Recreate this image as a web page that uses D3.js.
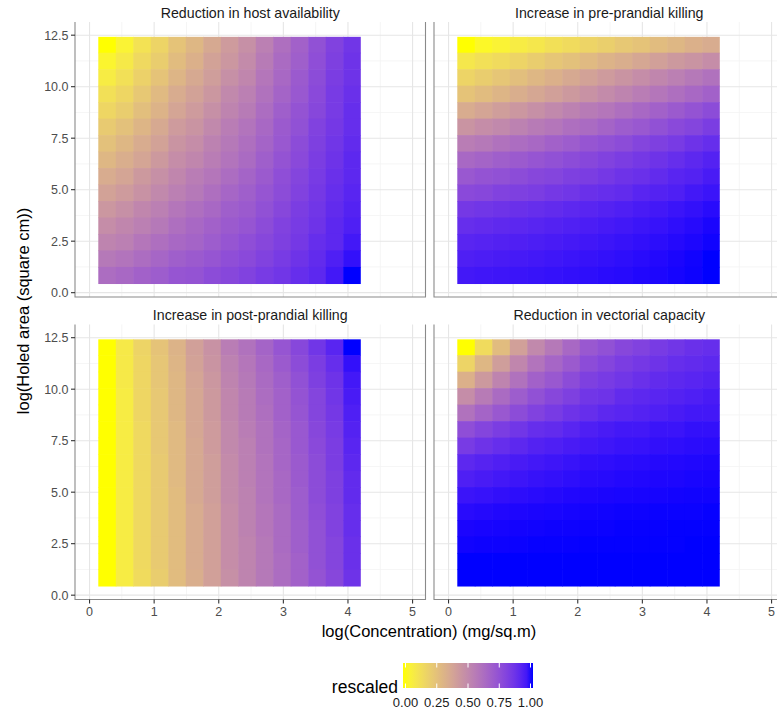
<!DOCTYPE html>
<html><head><meta charset="utf-8">
<script src="https://cdn.jsdelivr.net/npm/d3@7"></script>
<style>body{margin:0;background:#fff} svg{display:block;font-family:"Liberation Sans",Arial,sans-serif}</style>
</head><body><svg id="chart" width="777" height="712"></svg>
<script>
// ---------- data ----------
const panelTitles = ["Reduction in host availability", "Increase in pre-prandial killing",
                     "Increase in post-prandial killing", "Reduction in vectorial capacity"];
// log(Concentration) tile centres
const xCenters = [0.271,0.542,0.813,1.084,1.355,1.625,1.896,2.167,2.438,2.709,2.979,3.250,3.521,3.792,4.063];
// log(Holed area) tile centres, top row first
const yCenters = [12.02,11.22,10.42,9.62,8.82,8.02,7.22,6.42,5.62,4.82,4.02,3.22,2.42,1.62,0.82];
const xTicks = [0,1,2,3,4,5];
const yTicks = [0,2.5,5,7.5,10,12.5];
const yTickLabels = ["0.0","2.5","5.0","7.5","10.0","12.5"];
const legendTicks = [0,0.25,0.5,0.75,1];
const legendTickLabels = ["0.00","0.25","0.50","0.75","1.00"];

const hostAvailability = [
 [0,.05,.12,.18,.25,.30,.36,.42,.47,.54,.61,.67,.74,.80,.85],
 [.04,.09,.16,.21,.28,.33,.39,.44,.49,.56,.63,.68,.75,.81,.86],
 [.08,.13,.19,.25,.31,.36,.41,.47,.51,.58,.64,.70,.76,.82,.86],
 [.13,.17,.23,.29,.35,.39,.44,.50,.54,.60,.66,.71,.77,.83,.87],
 [.17,.21,.27,.32,.38,.42,.47,.52,.56,.62,.68,.73,.78,.83,.88],
 [.22,.26,.31,.36,.42,.45,.50,.55,.59,.64,.70,.74,.80,.84,.88],
 [.26,.30,.35,.39,.45,.48,.53,.57,.61,.66,.71,.76,.81,.85,.89],
 [.30,.34,.38,.43,.48,.51,.55,.59,.63,.68,.73,.77,.82,.86,.90],
 [.35,.38,.43,.47,.51,.55,.58,.62,.66,.70,.75,.79,.83,.87,.90],
 [.39,.42,.46,.50,.54,.57,.61,.65,.68,.72,.76,.80,.84,.88,.91],
 [.44,.47,.51,.54,.58,.61,.64,.68,.70,.74,.78,.82,.85,.89,.92],
 [.48,.51,.54,.57,.61,.64,.67,.70,.72,.76,.80,.83,.86,.90,.93],
 [.52,.54,.58,.61,.64,.66,.69,.72,.75,.78,.81,.84,.88,.90,.95],
 [.57,.59,.62,.65,.68,.70,.72,.75,.77,.80,.83,.86,.89,.93,.97],
 [.62,.64,.67,.69,.72,.73,.76,.78,.80,.83,.85,.88,.90,.95,1]
];
const prePrandialKilling = [
 [0,.03,.05,.08,.10,.13,.15,.18,.20,.23,.25,.28,.30,.33,.35],
 [.10,.13,.15,.18,.21,.24,.26,.29,.32,.34,.37,.40,.43,.45,.48],
 [.18,.21,.24,.27,.30,.33,.36,.39,.42,.45,.48,.51,.54,.57,.60],
 [.25,.28,.31,.34,.37,.40,.43,.46,.49,.52,.55,.58,.61,.64,.67],
 [.35,.38,.41,.44,.47,.50,.53,.56,.58,.61,.64,.67,.70,.73,.76],
 [.45,.48,.50,.53,.56,.58,.61,.63,.66,.69,.71,.74,.77,.79,.82],
 [.55,.57,.60,.62,.64,.67,.69,.72,.74,.76,.79,.81,.83,.86,.88],
 [.64,.66,.68,.70,.72,.74,.76,.78,.80,.82,.84,.86,.88,.90,.92],
 [.71,.73,.74,.76,.78,.79,.81,.82,.84,.86,.87,.89,.91,.92,.94],
 [.77,.78,.80,.81,.82,.84,.85,.87,.88,.89,.91,.92,.93,.95,.96],
 [.84,.85,.86,.87,.88,.89,.90,.91,.92,.93,.94,.95,.96,.97,.98],
 [.88,.888,.896,.904,.911,.919,.927,.935,.943,.951,.959,.966,.974,.982,.99],
 [.91,.916,.922,.928,.934,.94,.946,.952,.959,.965,.971,.977,.983,.989,.995],
 [.93,.935,.94,.945,.95,.955,.96,.965,.97,.975,.98,.985,.99,.995,1],
 [.95,.954,.957,.961,.964,.968,.971,.975,.979,.982,.986,.989,.993,.996,1]
];
const postPrandialKilling = [
 [0,.09,.18,.25,.32,.40,.46,.55,.60,.66,.72,.78,.85,.91,1],
 [0,.09,.17,.24,.31,.39,.45,.53,.58,.64,.70,.76,.82,.88,.97],
 [0,.09,.17,.24,.30,.38,.44,.52,.57,.63,.68,.74,.81,.86,.95],
 [0,.08,.17,.23,.30,.37,.43,.51,.56,.62,.67,.73,.79,.85,.94],
 [0,.08,.17,.23,.30,.37,.43,.51,.56,.61,.67,.72,.79,.84,.93],
 [0,.08,.16,.23,.29,.37,.42,.50,.55,.60,.66,.71,.78,.83,.92],
 [0,.08,.16,.23,.29,.36,.42,.50,.54,.60,.65,.71,.77,.82,.91],
 [0,.08,.16,.22,.29,.36,.41,.49,.54,.59,.65,.70,.76,.82,.90],
 [0,.08,.16,.22,.29,.36,.41,.49,.54,.59,.64,.70,.76,.81,.89],
 [0,.08,.16,.22,.28,.36,.41,.49,.53,.59,.64,.69,.76,.81,.89],
 [0,.08,.16,.22,.28,.35,.40,.48,.53,.58,.63,.69,.75,.80,.88],
 [0,.08,.16,.22,.28,.35,.40,.48,.53,.58,.63,.68,.74,.80,.88],
 [0,.08,.16,.22,.28,.35,.40,.48,.52,.57,.63,.68,.74,.79,.87],
 [0,.08,.16,.22,.28,.35,.40,.48,.52,.57,.62,.67,.74,.79,.87],
 [0,.08,.15,.21,.28,.34,.40,.47,.52,.57,.62,.67,.73,.78,.86]
];
const vectorialCapacity = [
 [0,.15,.28,.40,.50,.57,.64,.71,.74,.78,.80,.83,.85,.87,.88],
 [.18,.30,.41,.51,.59,.65,.70,.76,.79,.82,.84,.86,.88,.89,.90],
 [.33,.43,.52,.60,.67,.71,.76,.81,.83,.85,.87,.89,.90,.91,.92],
 [.48,.56,.63,.69,.74,.78,.81,.85,.86,.89,.90,.91,.92,.93,.94],
 [.60,.66,.71,.76,.80,.83,.86,.88,.90,.91,.92,.93,.94,.95,.95],
 [.75,.79,.82,.85,.88,.89,.91,.93,.94,.95,.95,.96,.96,.97,.97],
 [.83,.86,.88,.90,.92,.93,.94,.95,.956,.963,.966,.971,.974,.978,.98],
 [.90,.915,.928,.94,.95,.957,.964,.971,.974,.978,.98,.983,.985,.987,.988],
 [.93,.94,.95,.958,.965,.97,.975,.98,.982,.985,.986,.988,.989,.991,.992],
 [.96,.966,.971,.976,.98,.983,.986,.988,.99,.991,.992,.993,.994,.995,.995],
 [.98,.983,.986,.988,.99,.991,.993,.994,.995,.996,.996,.997,.997,.997,.998],
 [.99,.992,.993,.994,.995,.996,.996,.997,.997,.998,.998,.998,.999,.999,.999],
 [.995,.996,.996,.997,.998,.998,.998,.999,.999,.999,.999,.999,.999,1,1],
 [1,1,1,1,1,1,1,1,1,1,1,1,1,1,1],
 [1,1,1,1,1,1,1,1,1,1,1,1,1,1,1]
];
const panelData = [hostAvailability, prePrandialKilling, postPrandialKilling, vectorialCapacity];

// ---------- layout ----------
const tileW = 0.271, tileH = 0.8;
const panelW = 350.5, panelH = 275;
const colX = [75, 434], rowY = [22, 324.5];
const x = d3.scaleLinear().domain([-0.225, 5.2]).range([0, panelW]);
const y = d3.scaleLinear().domain([-0.21, 13.14]).range([panelH, 0]);
const fill = d3.scaleLinear().domain([0,1]).range(["#FFFF00","#0000FF"]).interpolate(d3.interpolateLab);

const svg = d3.select("#chart");
const tickFont = 12.5, gridMajor = "#E6E6E6", gridMinor = "#F3F3F3", borderCol = "#8a8a8a", tickCol = "#4D4D4D";

panelData.forEach((mat, p) => {
  const c = p % 2, r = Math.floor(p / 2);
  const g = svg.append("g").attr("transform", `translate(${colX[c]},${rowY[r]})`);
  // grid
  const xMinor = d3.range(0.5, 5, 1), yMinor = d3.range(1.25, 12.5, 2.5);
  g.selectAll(".vmin").data(xMinor).join("line").attr("x1", d=>x(d)).attr("x2", d=>x(d))
    .attr("y1",0).attr("y2",panelH).attr("stroke",gridMinor).attr("stroke-width",0.8);
  g.selectAll(".hmin").data(yMinor).join("line").attr("y1", d=>y(d)).attr("y2", d=>y(d))
    .attr("x1",0).attr("x2",panelW).attr("stroke",gridMinor).attr("stroke-width",0.8);
  g.selectAll(".vmaj").data(xTicks).join("line").attr("x1", d=>x(d)).attr("x2", d=>x(d))
    .attr("y1",0).attr("y2",panelH).attr("stroke",gridMajor).attr("stroke-width",1.1);
  g.selectAll(".hmaj").data(yTicks).join("line").attr("y1", d=>y(d)).attr("y2", d=>y(d))
    .attr("x1",0).attr("x2",panelW).attr("stroke",gridMajor).attr("stroke-width",1.1);
  // tiles
  const cells = [];
  mat.forEach((row, ri) => row.forEach((v, ci) => cells.push({xc: xCenters[ci], yc: yCenters[ri], v, ci, ri})));
  const tg = g.append("g");
  tg.selectAll("rect").data(cells).join("rect")
    .attr("x", d => x(d.xc - tileW/2))
    .attr("width", d => x(d.xc + tileW/2) - x(d.xc - tileW/2) + (d.ci < 14 ? 0.6 : 0))
    .attr("y", d => y(d.yc + tileH/2) - (d.ri > 0 ? 0.6 : 0))
    .attr("height", d => y(d.yc - tileH/2) - y(d.yc + tileH/2) + (d.ri > 0 ? 0.6 : 0))
    .attr("fill", d => fill(d.v));
  // borders (left, right, bottom)
  g.append("path").attr("d", `M0,0V${panelH}H${panelW}V0`).attr("fill","none")
    .attr("stroke", borderCol).attr("stroke-width", 1.1);
  // strip title
  g.append("text").attr("x", panelW/2).attr("y", -4.5).attr("text-anchor","middle")
    .attr("font-size", 14.2).attr("fill","#1A1A1A").text(panelTitles[p]);
  // y axis on left column
  if (c === 0) {
    const ya = g.append("g");
    yTicks.forEach((t, i) => {
      ya.append("line").attr("x1",-4).attr("x2",0).attr("y1",y(t)).attr("y2",y(t)).attr("stroke","#333").attr("stroke-width",1.1);
      ya.append("text").attr("x",-6.5).attr("y",y(t)).attr("dy","0.35em").attr("text-anchor","end")
        .attr("font-size",tickFont).attr("fill",tickCol).text(yTickLabels[i]);
    });
  }
  // x axis on bottom row
  if (r === 1) {
    const xa = g.append("g");
    xTicks.forEach(t => {
      xa.append("line").attr("x1",x(t)).attr("x2",x(t)).attr("y1",panelH).attr("y2",panelH+4).attr("stroke","#333").attr("stroke-width",1.1);
      xa.append("text").attr("x",x(t)).attr("y",panelH+16).attr("text-anchor","middle")
        .attr("font-size",tickFont).attr("fill",tickCol).text(d3.format("d")(t));
    });
  }
});

// axis titles
svg.append("text").attr("x", 429).attr("y", 637).attr("text-anchor","middle")
  .attr("font-size",16.5).attr("fill","#000").text("log(Concentration) (mg/sq.m)");
svg.append("text").attr("transform","translate(29,311) rotate(-90)").attr("text-anchor","middle")
  .attr("font-size",16.5).attr("fill","#000").text("log(Holed area (square cm))");

// legend
const lg = svg.append("g");
const defs = svg.append("defs");
const grad = defs.append("linearGradient").attr("id","lgGrad");
d3.range(0, 1.0001, 0.05).forEach(t => grad.append("stop").attr("offset", t).attr("stop-color", fill(t)));
const lx = d3.scaleLinear().domain([0,1]).range([405.5, 530.5]);
const barX0 = 403, barX1 = 533, barY0 = 663, barY1 = 688;
lg.append("rect").attr("x",barX0).attr("y",barY0).attr("width",barX1-barX0).attr("height",barY1-barY0).attr("fill","url(#lgGrad)");
legendTicks.forEach((t,i) => {
  lg.append("line").attr("x1",lx(t)).attr("x2",lx(t)).attr("y1",barY0).attr("y2",barY0+4.5).attr("stroke","#fff").attr("stroke-width",1);
  lg.append("line").attr("x1",lx(t)).attr("x2",lx(t)).attr("y1",barY1-4.5).attr("y2",barY1).attr("stroke","#fff").attr("stroke-width",1);
  lg.append("text").attr("x",lx(t)).attr("y",707).attr("text-anchor","middle").attr("font-size",13)
    .attr("fill","#1A1A1A").text(legendTickLabels[i]);
});
lg.append("text").attr("x",398).attr("y",693).attr("text-anchor","end").attr("font-size",17.5).attr("fill","#000").text("rescaled");
</script></body></html>
